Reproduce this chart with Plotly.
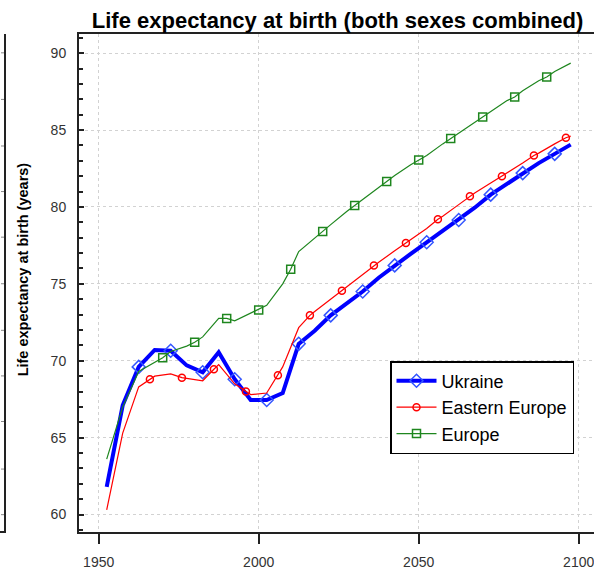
import plotly.graph_objects as go

# ---------------- data ----------------
years = [1952.5, 1957.5, 1962.5, 1967.5, 1972.5, 1977.5, 1982.5, 1987.5, 1992.5, 1997.5,
         2002.5, 2007.5, 2012.5, 2017.5, 2022.5, 2027.5, 2032.5, 2037.5, 2042.5, 2047.5,
         2052.5, 2057.5, 2062.5, 2067.5, 2072.5, 2077.5, 2082.5, 2087.5, 2092.5, 2097.5]

ukraine = [61.8, 67.1, 69.6, 70.7, 70.65, 69.7, 69.25, 70.55, 68.8, 67.45,
           67.45, 67.9, 71.1, 71.95, 72.95, 73.75, 74.5, 75.4, 76.2, 76.95,
           77.7, 78.45, 79.15, 79.95, 80.8, 81.5, 82.2, 82.85, 83.45, 84.05]

eastern_europe = [60.3, 65.3, 68.3, 69.0, 69.15, 68.85, 68.7, 69.75, 68.5, 67.8,
                  67.9, 69.6, 72.15, 73.2, 74.0, 74.8, 75.6, 76.4, 77.15, 77.85,
                  78.6, 79.4, 80.15, 80.9, 81.55, 82.2, 82.85, 83.5, 84.1, 84.6]

europe = [63.6, 67.0, 69.3, 69.9, 70.6, 70.95, 71.55, 72.75, 72.6, 73.1,
          73.6, 75.0, 77.1, 78.0, 78.85, 79.7, 80.5, 81.3, 82.05, 82.75,
          83.35, 84.1, 84.85, 85.55, 86.2, 86.9, 87.55, 88.2, 88.8, 89.35]

ukraine_marker_years = [1962.5, 1972.5, 1982.5, 1992.5, 2002.5, 2012.5, 2022.5,
                        2032.5, 2042.5, 2052.5, 2062.5, 2072.5, 2082.5, 2092.5]

eastern_marker_years = [1966, 1976, 1986, 1996, 2006, 2016, 2026,
                        2036, 2046, 2056, 2066, 2076, 2086, 2096]
eastern_marker_values = [68.8, 68.9, 69.45, 68.0, 69.05, 72.95, 74.55,
                         76.2, 77.65, 79.2, 80.7, 82.0, 83.35, 84.5]

europe_marker_years = [1970, 1980, 1990, 2000, 2010, 2020, 2030,
                       2040, 2050, 2060, 2070, 2080, 2090]
europe_marker_values = [70.2, 71.2, 72.75, 73.3, 75.95, 78.4, 80.1,
                        81.65, 83.05, 84.45, 85.85, 87.15, 88.45]

series_names = ["Ukraine", "Eastern Europe", "Europe"]
x_tick_values = [1950, 2000, 2050, 2100]
y_tick_values = [60, 65, 70, 75, 80, 85, 90]

title_text = "Life expectancy at birth (both sexes combined)"
y_title_text = "Life expectancy at birth (years)"

# ---------------- layout helpers ----------------
W, H = 594, 570
ML, MR, MT, MB = 79, 0, 34, 33.5
PW, PH = W - ML - MR, H - MT - MB


def px_x(px):
    return (px - ML) / PW


def px_y(py):
    return (H - MB - py) / PH


def merged(xs, ys, mx, my):
    pts = sorted(dict(zip(list(xs) + list(mx), list(ys) + list(my))).items())
    return [p[0] for p in pts], [p[1] for p in pts]


uk_lookup = dict(zip(years, ukraine))
ukraine_marker_values = [uk_lookup[y] for y in ukraine_marker_years]

ee_x, ee_y = merged(years, eastern_europe, eastern_marker_years, eastern_marker_values)
eu_x, eu_y = merged(years, europe, europe_marker_years, europe_marker_values)

BLUE, BLUE_M = "#0000FF", "#3355FF"
RED = "#FF0000"
GREEN = "#1E861E"

styles = [
    dict(name=series_names[0], lx=years, ly=ukraine, mx=ukraine_marker_years, my=ukraine_marker_values,
         color=BLUE, mcolor=BLUE_M, width=4, symbol="diamond-open", size=10),
    dict(name=series_names[1], lx=ee_x, ly=ee_y, mx=eastern_marker_years, my=eastern_marker_values,
         color=RED, mcolor=RED, width=1.2, symbol="circle-open", size=7),
    dict(name=series_names[2], lx=eu_x, ly=eu_y, mx=europe_marker_years, my=europe_marker_values,
         color=GREEN, mcolor=GREEN, width=1.2, symbol="square-open", size=8),
]

fig = go.Figure()
for s in styles:
    fig.add_trace(go.Scatter(x=s["lx"], y=s["ly"], mode="lines", showlegend=False,
                             line=dict(color=s["color"], width=s["width"]), hoverinfo="skip"))
    fig.add_trace(go.Scatter(x=s["mx"], y=s["my"], mode="markers", showlegend=False,
                             marker=dict(symbol=s["symbol"], size=s["size"], color=s["mcolor"],
                                         line=dict(width=1.5, color=s["mcolor"]))))
for s in styles:
    fig.add_trace(go.Scatter(x=[None], y=[None], mode="lines+markers", name=s["name"],
                             line=dict(color=s["color"], width=s["width"]),
                             marker=dict(symbol=s["symbol"], size=s["size"], color=s["mcolor"],
                                         line=dict(width=1.5, color=s["mcolor"]))))

grid = dict(showgrid=True, gridcolor="#d2d2d2", gridwidth=1, griddash="3px,3px", zeroline=False)

fig.update_xaxes(range=[1950 - (98.7 - ML) / 3.2, 1950 + (W + 6 - 98.7) / 3.2],
                 tickvals=x_tick_values, ticks="outside", ticklen=10, tickwidth=2, tickcolor="#222",
                 showline=True, linewidth=2, linecolor="#222", mirror=True,
                 ticklabeloverflow="allow",
                 tickfont=dict(size=14, color="#333"), ticklabelstandoff=6, **grid)
fig.update_yaxes(range=[90 - (H - MB - 53.3) / 15.52, 90 + (53.3 - MT) / 15.52],
                 tickvals=y_tick_values, ticks="inside", ticklen=5, tickwidth=1.5, tickcolor="#222",
                 minor=dict(dtick=1, tick0=0, ticks="inside", ticklen=4, tickwidth=1.5,
                            tickcolor="#222", showgrid=False),
                 showline=True, linewidth=2, linecolor="#222", mirror=False,
                 tickfont=dict(size=14, color="#333"), ticklabelstandoff=8, **grid)

shapes = [
    dict(type="line", xref="paper", yref="paper", x0=px_x(5), x1=px_x(5), y0=px_y(34), y1=px_y(537.5),
         line=dict(color="#222", width=2)),
    dict(type="line", xref="paper", yref="paper", x0=px_x(0), x1=px_x(6), y0=px_y(536.5), y1=px_y(536.5),
         line=dict(color="#222", width=2)),
]
for ty in [53, 100, 147, 193, 239, 286, 333, 379, 425, 473, 519]:
    shapes.append(dict(type="line", xref="paper", yref="paper", x0=px_x(1), x1=px_x(4),
                       y0=px_y(ty), y1=px_y(ty), line=dict(color="#888", width=1)))

fig.update_layout(
    width=W + 6, height=H,
    margin=dict(l=ML, r=MR, t=MT, b=MB, pad=0),
    plot_bgcolor="white", paper_bgcolor="white",
    font=dict(family="Liberation Sans, Arial, sans-serif", color="black"),
    title=dict(text="<b>" + title_text + "</b>", x=337.5 / (W + 6), xanchor="center", xref="container",
               y=1 - 20 / H, yanchor="middle", yref="container", font=dict(size=22, color="black")),
    legend=dict(x=(390 - ML) / (PW + 6), y=px_y(364), xanchor="left", yanchor="top",
                bordercolor="black", borderwidth=1.5, bgcolor="white",
                font=dict(size=18, color="black"), itemwidth=40, tracegroupgap=0),
    shapes=shapes,
    annotations=[dict(text="<b>" + y_title_text + "</b>", textangle=-90, showarrow=False,
                      xref="paper", yref="paper", x=(23 - ML) / (PW + 6), y=px_y(271.5),
                      xanchor="center", yanchor="middle", font=dict(size=14.5, color="black"))],
)

# shapes use paper x relative to the (slightly wider) plot area
for sh in fig.layout.shapes:
    sh.x0 = sh.x0 * PW / (PW + 6)
    sh.x1 = sh.x1 * PW / (PW + 6)

fig.write_html("out.html", config={"displayModeBar": False},
               post_script="document.body.style.margin='0';document.body.style.overflow='hidden';")
